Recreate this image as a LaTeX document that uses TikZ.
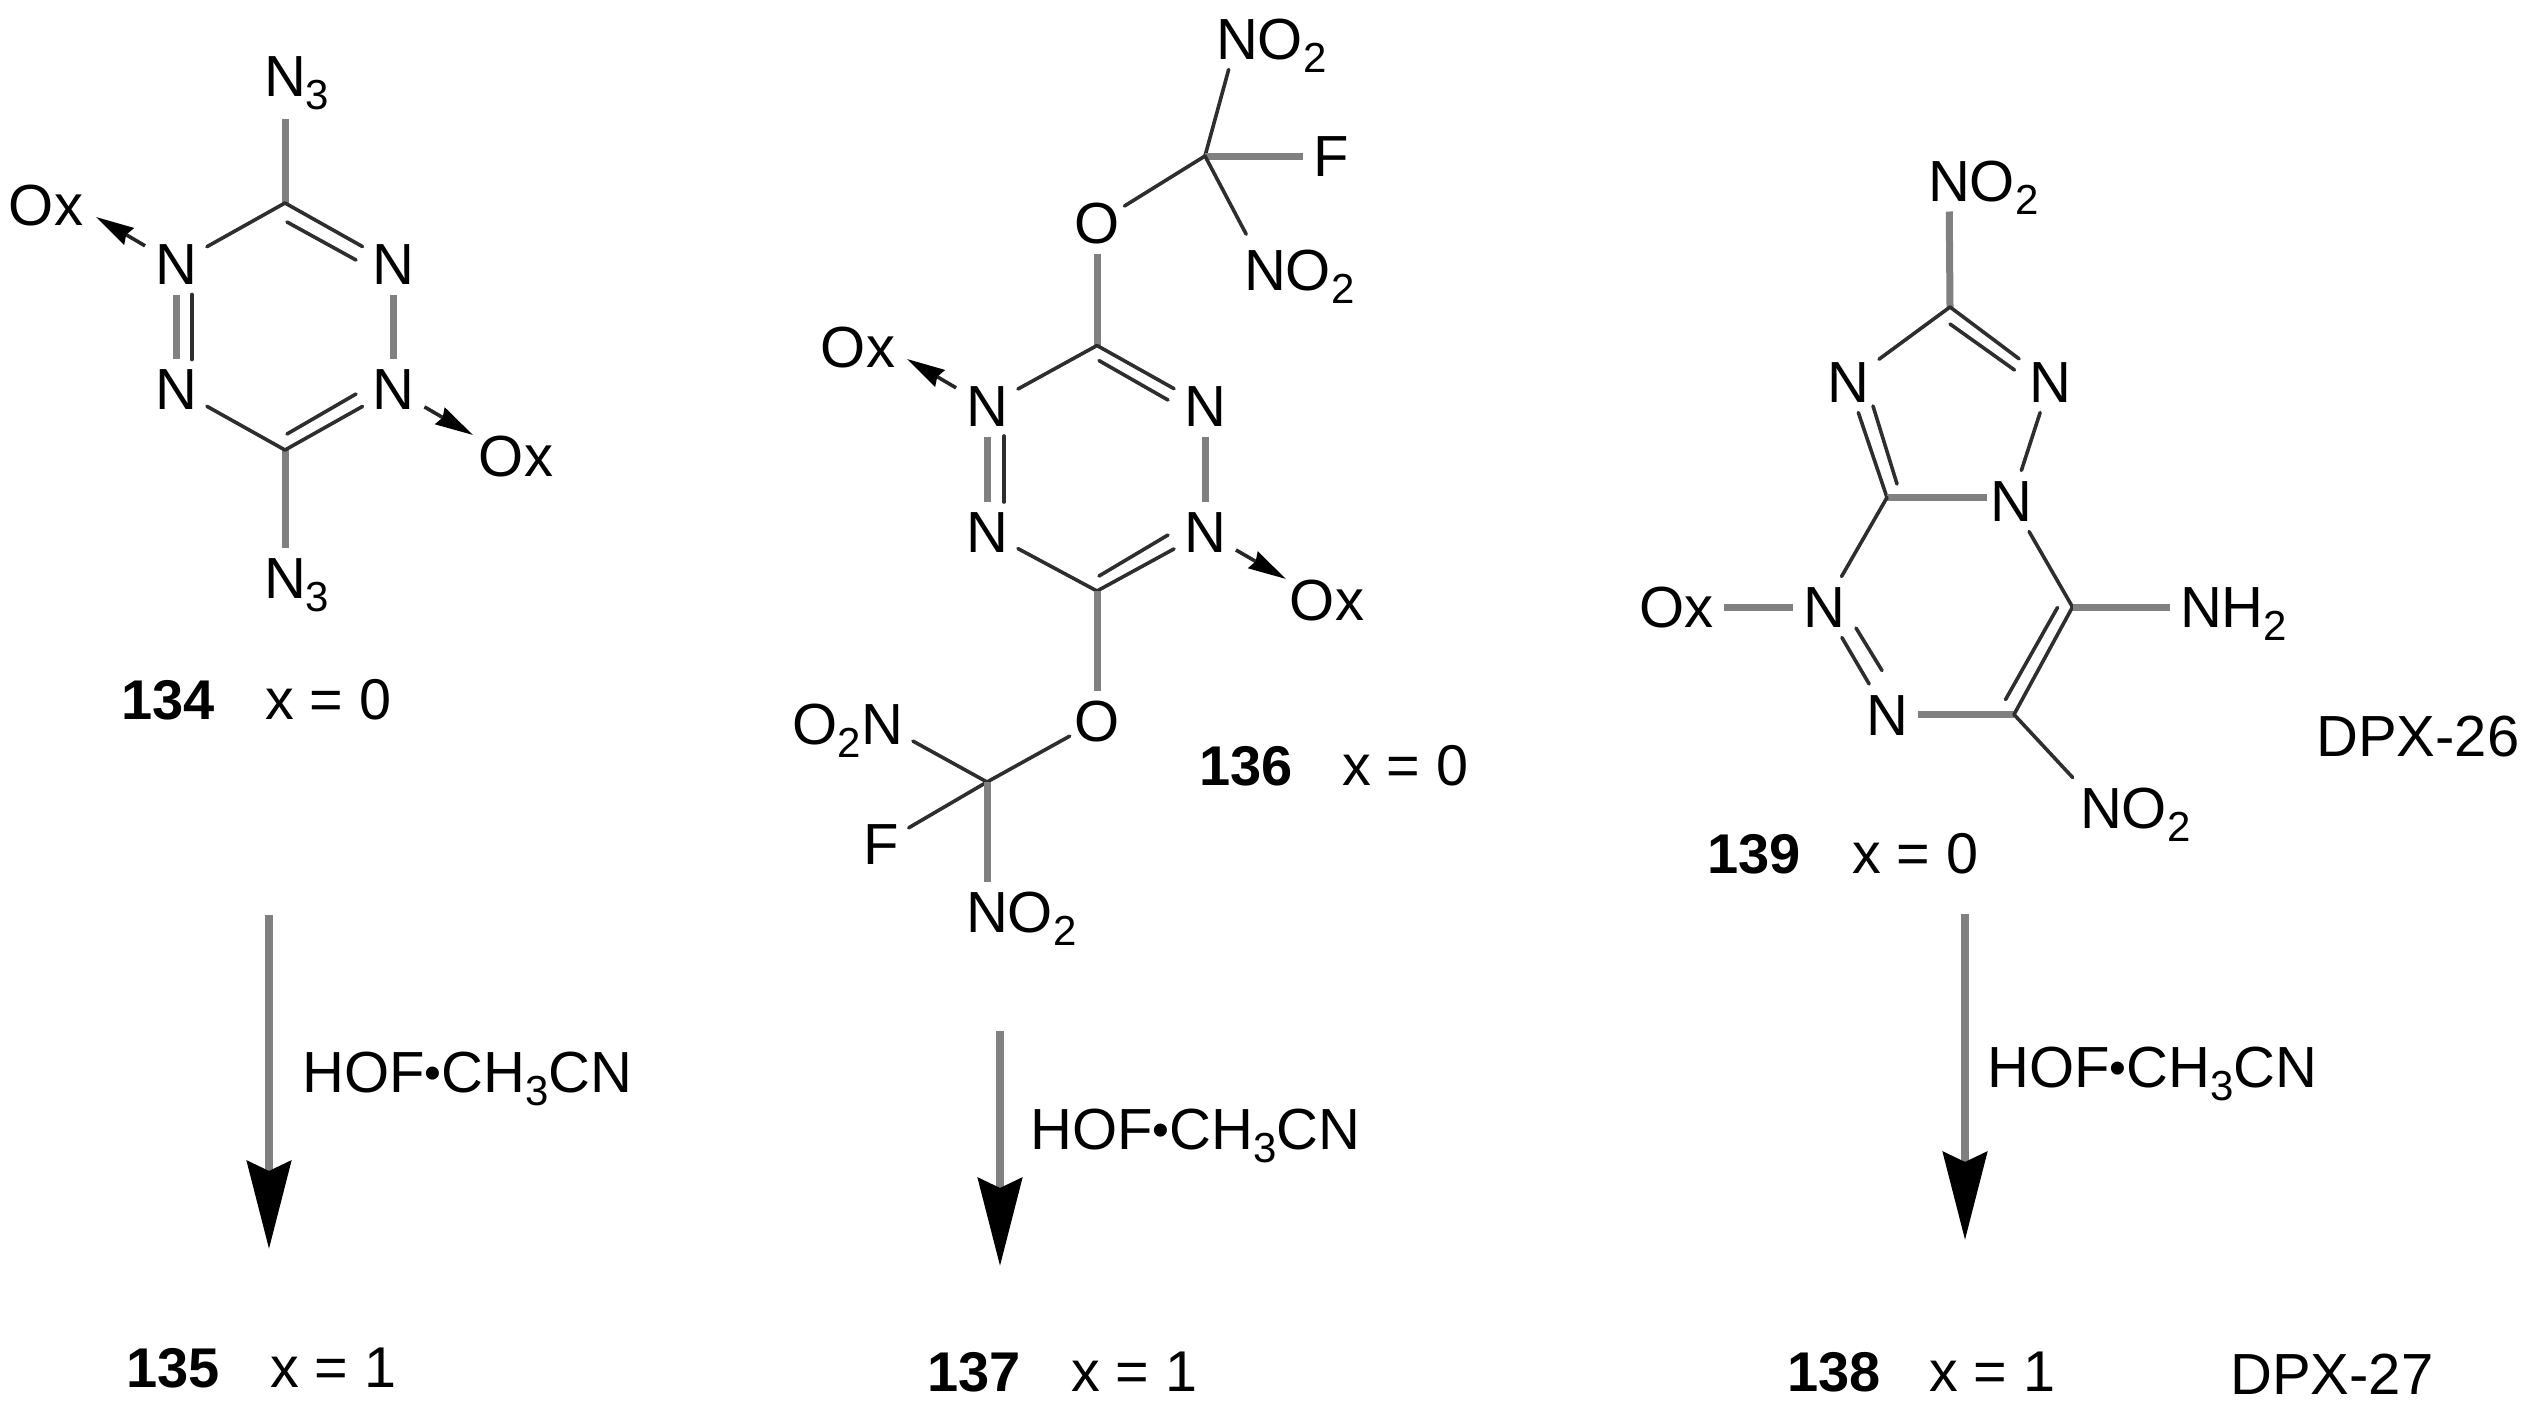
\documentclass[tikz,border=0pt]{standalone}
\usepackage{fontspec}
\setmainfont{Liberation Sans}
\usetikzlibrary{arrows.meta}
\newcommand{\subsc}[1]{\raisebox{-13pt}{\fontsize{42}{42}\selectfont #1}}
\tikzset{
  atom/.style={inner sep=0pt,outer sep=10pt,text height=41pt,text depth=0pt,font=\fontsize{58}{60}\selectfont,text=black},
  lab/.style={inner sep=0pt,anchor=west,text height=40pt,text depth=0pt,font=\fontsize{57.5}{60}\selectfont,text=black},
  blab/.style={lab,font=\fontsize{56}{60}\selectfont\bfseries},
  dpx/.style={lab,font=\fontsize{58}{60}\selectfont},
  hofl/.style={lab,font=\fontsize{58}{60}\selectfont},
  gb/.style={draw=black!50,line width=7pt},
  db/.style={draw=black!82,line width=3.6pt,line cap=round},
  dative/.style={draw=black!85,line width=3.6pt,-{Stealth[length=38pt,width=19pt,inset=3pt,fill=black,color=black]}},
  react/.style={draw=black!50,line width=8pt,-{Stealth[length=88pt,width=44pt,inset=10pt,fill=black,color=black]}}
}
\begin{document}
\begin{tikzpicture}[x=1pt,y=-1pt]
\useasboundingbox (0,0) rectangle (2538,1417);
% ---- 134
\node[atom] (an3t) at (285,76) {N\rlap{\subsc{3}}};
\node[atom] (an3b) at (285,578) {N\rlap{\subsc{3}}};
\node[atom] (anul) at (176,264) {N};
\node[atom] (anur) at (393.5,264) {N};
\node[atom] (anll) at (176,389) {N};
\node[atom] (anlr) at (393.5,389) {N};
\node[atom] (aoxl) at (46,205) {Ox};
\node[atom] (aoxr) at (516,456) {Ox};
\coordinate (act) at (285,203);
\coordinate (acb) at (285,450);
\coordinate (aal) at (96,217);
\coordinate (aar) at (473,435);
\coordinate (ai1a) at (287,222);
\coordinate (ai1b) at (356,260);
\coordinate (ai2a) at (287,434);
\coordinate (ai2b) at (356,394);
\coordinate (ai3a) at (192,294.5);
\coordinate (ai3b) at (192,359.5);
\draw[gb,shorten >=12pt] (act) -- (an3t);
\draw[gb] (acb) -- (an3b);
\draw[db] (act) -- (anul);
\draw[db] (act) -- (anur);
\draw[db] (ai1a) -- (ai1b);
\draw[gb] (anul) -- (anll);
\draw[db] (ai3a) -- (ai3b);
\draw[gb] (anur) -- (anlr);
\draw[db] (acb) -- (anll);
\draw[db] (acb) -- (anlr);
\draw[db] (ai2a) -- (ai2b);
\draw[dative] (anul) -- (aal);
\draw[dative] (anlr) -- (aar);
\node[blab] (l134) at (121,699) {134};
\node[lab] (x134) at (265,699) {x = 0};
% ---- 136
\node[atom] (bno1) at (1237,39) {N\rlap{O\subsc{2}}};
\node[atom] (bf1) at (1331,156) {F};
\node[atom] (bno2) at (1265,270) {N\rlap{O\subsc{2}}};
\node[atom] (bo1) at (1097,223) {O};
\node[atom] (bo2) at (1097,721) {O};
\node[atom] (bno3) at (882,724) {\llap{O\subsc{2}}N};
\node[atom] (bf2) at (881,844) {F};
\node[atom] (bno4) at (987,912) {N\rlap{O\subsc{2}}};
\node[atom] (bnul) at (987,406) {N};
\node[atom] (bnur) at (1205,406) {N};
\node[atom] (bnll) at (987,532) {N};
\node[atom] (bnlr) at (1205,532) {N};
\node[atom] (boxl) at (858,347) {Ox};
\node[atom] (boxr) at (1327,600) {Ox};
\coordinate (bq1) at (1205,156);
\coordinate (bq2) at (987,782);
\coordinate (bct) at (1097,345.5);
\coordinate (bcb) at (1097,591);
\coordinate (bal) at (907,359);
\coordinate (bar) at (1286,579);
\coordinate (bi1a) at (1099,360.6);
\coordinate (bi1b) at (1168,400);
\coordinate (bi2a) at (1099,576);
\coordinate (bi2b) at (1168,535);
\coordinate (bi3a) at (1004,436);
\coordinate (bi3b) at (1004,502);
\draw[db] (bq1) -- (bno1);
\draw[gb] (bq1) -- (bf1);
\draw[db,shorten >=6pt] (bq1) -- (bno2);
\draw[db,shorten >=-6pt] (bq1) -- (bo1);
\draw[gb] (bo1) -- (bct);
\draw[db] (bct) -- (bnul);
\draw[db] (bct) -- (bnur);
\draw[db] (bi1a) -- (bi1b);
\draw[gb] (bnul) -- (bnll);
\draw[db] (bi3a) -- (bi3b);
\draw[gb] (bnur) -- (bnlr);
\draw[db] (bcb) -- (bnll);
\draw[db] (bcb) -- (bnlr);
\draw[db] (bi2a) -- (bi2b);
\draw[gb] (bcb) -- (bo2);
\draw[db,shorten <=-6pt] (bo2) -- (bq2);
\draw[db] (bno3) -- (bq2);
\draw[db] (bf2) -- (bq2);
\draw[gb] (bq2) -- (bno4);
\draw[dative] (bnul) -- (bal);
\draw[dative] (bnlr) -- (bar);
\node[blab] (l136) at (1199,765) {136};
\node[lab] (x136) at (1342,765) {x = 0};
% ---- 139
\node[atom] (cno1) at (1949,181) {N\rlap{O\subsc{2}}};
\node[atom] (cnl) at (1848,382) {N};
\node[atom] (cnr) at (2050,382) {N};
\node[atom] (cnf) at (2011.5,501) {N};
\node[atom] (cnox) at (1824,607) {N};
\node[atom] (cox) at (1676.5,607) {Ox};
\node[atom] (cnh) at (2201,607) {N\rlap{H\subsc{2}}};
\node[atom] (cnb) at (1887,714.5) {N};
\node[atom] (cno2) at (2101,808) {N\rlap{O\subsc{2}}};
\coordinate (cct) at (1950,307);
\coordinate (ccf) at (1887,497.5);
\coordinate (cfe) at (1987,497.5);
\coordinate (ccn) at (2072.5,607);
\coordinate (ccb) at (2014,714.5);
\coordinate (ci1a) at (1950,324);
\coordinate (ci1b) at (2014.5,370);
\coordinate (ci2a) at (1873,406);
\coordinate (ci2b) at (1897,484);
\coordinate (ci3a) at (1856,628);
\coordinate (ci3b) at (1882,670.5);
\coordinate (ci4a) at (2057.5,607.5);
\coordinate (ci4b) at (2005.5,699.6);
\draw[gb] (cct) -- (cno1);
\draw[db] (cct) -- (cnl);
\draw[db] (cct) -- (cnr);
\draw[db] (ci1a) -- (ci1b);
\draw[db] (cnl) -- (ccf);
\draw[db] (ci2a) -- (ci2b);
\draw[db] (cnr) -- (cnf);
\draw[gb] (ccf) -- (cfe);
\draw[db] (ccf) -- (cnox);
\draw[db] (cnf) -- (ccn);
\draw[gb] (cox) -- (cnox);
\draw[db] (cnox) -- (cnb);
\draw[db] (ci3a) -- (ci3b);
\draw[gb] (cnb) -- (ccb);
\draw[db] (ccn) -- (ccb);
\draw[db] (ci4a) -- (ci4b);
\draw[db] (ccb) -- (cno2);
\draw[gb] (ccn) -- (cnh);
\node[blab] (l139) at (1707,853) {139};
\node[lab] (x139) at (1852,853) {x = 0};
\node[dpx] (dpx26) at (2316,736) {DPX-26};
% ---- reaction arrows
\coordinate (r1a) at (269,915);
\coordinate (r1b) at (269,1249);
\coordinate (r2a) at (1000,1031);
\coordinate (r2b) at (1000,1266);
\coordinate (r3a) at (1965,914);
\coordinate (r3b) at (1965,1240);
\draw[react] (r1a) -- (r1b);
\draw[react] (r2a) -- (r2b);
\draw[react] (r3a) -- (r3b);
\newcommand{\hof}{HOF\raisebox{3pt}{\fontsize{48}{48}\selectfont •}CH\subsc{3}CN}
\node[hofl] (h1) at (302,1072) {\hof};
\node[hofl] (h2) at (1030,1129) {\hof};
\node[hofl] (h3) at (1987,1067) {\hof};
% ---- products
\node[blab] (l135) at (126,1367) {135};
\node[lab] (x135) at (270,1367) {x = 1};
\node[blab] (l137) at (927,1371) {137};
\node[lab] (x137) at (1071,1371) {x = 1};
\node[blab] (l138) at (1787,1371) {138};
\node[lab] (x138) at (1929,1371) {x = 1};
\node[dpx] (dpx27) at (2230,1374) {DPX-27};
\end{tikzpicture}
\end{document}
